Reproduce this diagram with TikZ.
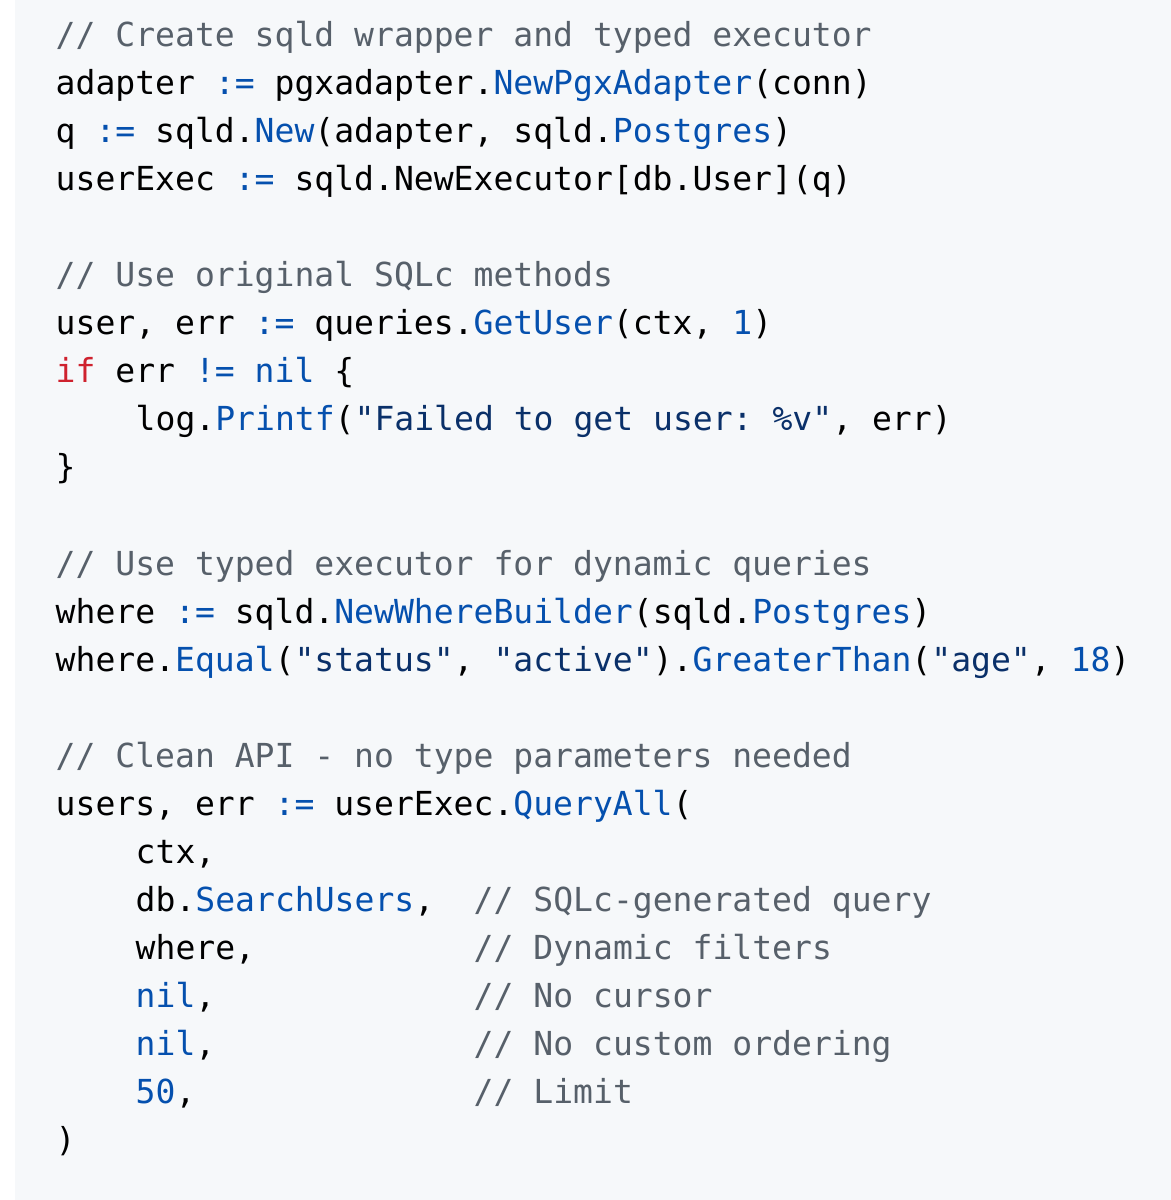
\documentclass[tikz,border=0pt]{standalone}
\usepackage{fontspec}
\setmonofont{DejaVu Sans Mono}
\usetikzlibrary{positioning}
\definecolor{bgcode}{HTML}{F6F8FA}
\definecolor{cmt}{HTML}{57606A}
\definecolor{kwd}{HTML}{CF222E}
\definecolor{fnc}{HTML}{0550AE}
\definecolor{str}{HTML}{0A3069}
\newcommand\cmt[1]{\textcolor{cmt}{#1}}
\newcommand\kwd[1]{\textcolor{kwd}{#1}}
\newcommand\fnc[1]{\textcolor{fnc}{#1}}
\newcommand\str[1]{\textcolor{str}{#1}}
\newcommand\asg{\fnc{:=}}
\tikzset{
  code/.style={anchor=base west, inner sep=0pt, font=\fontsize{9.4pt}{11pt}\ttfamily, text=black}
}
\begin{document}
\begin{tikzpicture}[x=0.01cm,y=-0.01cm]
\useasboundingbox (0,0) rectangle (1171,1200);
\fill[bgcode] (15,0) rectangle (1171,1200);

\node[code] (l1) at (55,46) {\cmt{// Create sqld wrapper and typed executor}};
\node[code] (l2) at (55,94) {adapter \asg{} pgxadapter.\fnc{NewPgxAdapter}(conn)};
\node[code] (l3) at (55,142) {q \asg{} sqld.\fnc{New}(adapter, sqld.\fnc{Postgres})};
\node[code] (l4) at (55,190) {userExec \asg{} sqld.NewExecutor[db.User](q)};

\node[code] (l6) at (55,286) {\cmt{// Use original SQLc methods}};
\node[code] (l7) at (55,334) {user, err \asg{} queries.\fnc{GetUser}(ctx, \fnc{1})};
\node[code] (l8) at (55,382) {\kwd{if} err \fnc{!=} \fnc{nil} \{};
\node[code] (l9) at (135,430) {log.\fnc{Printf}(\str{"Failed to get user: \%v"}, err)};
\node[code] (l10) at (55,478) {\}};

\node[code] (l12) at (55,575) {\cmt{// Use typed executor for dynamic queries}};
\node[code] (l13) at (55,623) {where \asg{} sqld.\fnc{NewWhereBuilder}(sqld.\fnc{Postgres})};
\node[code] (l14) at (55,671) {where.\fnc{Equal}(\str{"status"}, \str{"active"}).\fnc{GreaterThan}(\str{"age"}, \fnc{18})};

\node[code] (l16) at (55,767) {\cmt{// Clean API - no type parameters needed}};
\node[code] (l17) at (55,815) {users, err \asg{} userExec.\fnc{QueryAll}(};
\node[code] (l18) at (135,863) {ctx,};
\node[code] (l19) at (135,911) {db.\fnc{SearchUsers},};
\node[code] (l20) at (135,959) {where,};
\node[code] (l21) at (135,1007) {\fnc{nil},};
\node[code] (l22) at (135,1055) {\fnc{nil},};
\node[code] (l23) at (135,1103) {\fnc{50},};
\node[code] (l24) at (55,1151) {)};

\node[code] (c19) at (473,911) {\cmt{// SQLc-generated query}};
\node[code] (c20) at (473,959) {\cmt{// Dynamic filters}};
\node[code] (c21) at (473,1007) {\cmt{// No cursor}};
\node[code] (c22) at (473,1055) {\cmt{// No custom ordering}};
\node[code] (c23) at (473,1103) {\cmt{// Limit}};
\end{tikzpicture}
\end{document}
